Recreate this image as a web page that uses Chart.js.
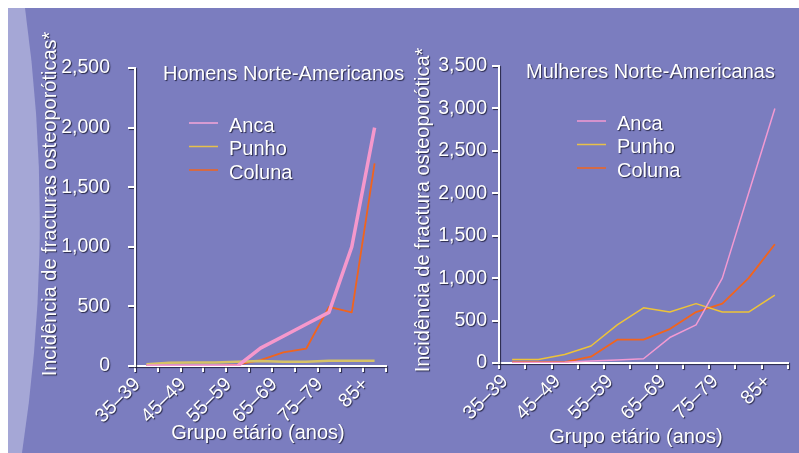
<!DOCTYPE html>
<html>
<head>
<meta charset="utf-8">
<script src="https://cdn.jsdelivr.net/npm/chart.js@4.4.1/dist/chart.umd.min.js"></script>
<style>
  html, body { margin: 0; padding: 0; background: #ffffff; }
  #stage { position: relative; width: 799px; height: 453px; overflow: hidden; background: #ffffff; }
  #panel { position: absolute; left: 8px; top: 8px; right: 0; bottom: 0; background: #7b7dbf; }
  #strip { position: absolute; left: 0; top: 0; }
  .box { position: absolute; top: 0; height: 453px; }
  #menBox { left: 30px; width: 385px; }
  #womenBox { left: 400px; width: 399px; }
</style>
</head>
<body>
<div id="stage">
  <div id="panel"></div>
  <svg id="strip" width="80" height="453" viewBox="0 0 80 453">
    <path d="M 8 8 L 25 8 Q 56 230 22 453 L 8 453 Z" fill="#a5a7d6"/>
  </svg>
  <div class="box" id="womenBox"><canvas id="women" width="399" height="453"></canvas></div>
  <div class="box" id="menBox"><canvas id="men" width="385" height="453"></canvas></div>
</div>
<script>
// Age bands on the horizontal axis
const ageGroups = ['35–39', '40–44', '45–49', '50–54', '55–59', '60–64', '65–69', '70–74', '75–79', '80–84', '85+'];

// Incidence of osteoporotic fractures, men
const menHip   = [0, 0, 0, 0, 0, 150, 250, 350, 450, 1000, 2000];
const menWrist = [15, 28, 30, 30, 35, 42, 35, 35, 45, 45, 45];
const menSpine = [0, 0, 0, 0, 12, 50, 115, 145, 495, 450, 1700];

// Incidence of osteoporotic fractures, women
const womenHip   = [5, 5, 10, 25, 35, 50, 300, 450, 1000, 2000, 3000];
const womenWrist = [40, 40, 100, 200, 450, 650, 600, 700, 600, 600, 800];
const womenSpine = [10, 10, 10, 75, 275, 275, 400, 600, 700, 1000, 1400];

// Series names
const seriesNames = ['Anca', 'Punho', 'Coluna'];

// Value axis ranges
const menMax = 2500;
const womenMax = 3500;
const yStep = 500;

const FONT = "'Liberation Sans', Arial, Helvetica, sans-serif";
const WHITE = '#ffffff';

function setShadow(ctx) {
  ctx.shadowColor = 'rgba(25, 25, 50, 0.85)';
  ctx.shadowOffsetX = 1;
  ctx.shadowOffsetY = 1;
  ctx.shadowBlur = 1;
}
function clearShadow(ctx) {
  ctx.shadowColor = 'rgba(0,0,0,0)';
  ctx.shadowOffsetX = 0;
  ctx.shadowOffsetY = 0;
  ctx.shadowBlur = 0;
}

// Shadowed axes and text; in-plot heading, legend and axis titles
const panelDecor = {
  id: 'panelDecor',
  beforeDraw(chart) {
    setShadow(chart.ctx);
  },
  beforeDatasetsDraw(chart) {
    clearShadow(chart.ctx);
  },
  afterDraw(chart, args, opts) {
    const ctx = chart.ctx;
    const area = chart.chartArea;
    ctx.save();
    setShadow(ctx);
    ctx.fillStyle = WHITE;
    ctx.textBaseline = 'middle';
    ctx.font = opts.textSize + 'px ' + FONT;

    // value-axis title, rotated
    ctx.save();
    ctx.textAlign = 'center';
    ctx.translate(opts.yTitleX, opts.yTitleY);
    ctx.rotate(-Math.PI / 2);
    ctx.fillText(opts.yTitle, 0, 0);
    ctx.restore();

    // category-axis title
    ctx.textAlign = 'center';
    ctx.fillText(opts.xTitle, opts.xTitleX, opts.xTitleY);

    // heading
    ctx.textAlign = 'left';
    ctx.fillText(opts.title, area.left + opts.titleDx, area.top + opts.titleDy);

    // legend
    chart.data.datasets.forEach((ds, i) => {
      const y = area.top + opts.legendDy + i * opts.legendGap;
      const x = area.left + opts.legendDx;
      clearShadow(ctx);
      ctx.strokeStyle = ds.legendColor || ds.borderColor;
      ctx.lineWidth = 1.5;
      ctx.beginPath();
      ctx.moveTo(x, y - 3);
      ctx.lineTo(x + 29, y - 3);
      ctx.stroke();
      setShadow(ctx);
      ctx.fillStyle = WHITE;
      ctx.fillText(ds.label, x + 40, y);
    });
    ctx.restore();
  }
};

function fmt(v) {
  return Number(v).toLocaleString('en-US');
}

function makeChart(id, cfg) {
  return new Chart(document.getElementById(id), {
    type: 'line',
    data: {
      labels: ageGroups,
      datasets: [
        { label: seriesNames[0], data: cfg.hip, borderColor: cfg.hipColor, legendColor: cfg.hipLegend, borderWidth: cfg.hipWidth },
        { label: seriesNames[1], data: cfg.wrist, borderColor: cfg.wristColor, legendColor: cfg.wristLegend, borderWidth: cfg.wristWidth },
        { label: seriesNames[2], data: cfg.spine, borderColor: cfg.spineColor, legendColor: cfg.spineLegend, borderWidth: cfg.spineWidth }
      ]
    },
    options: {
      responsive: false,
      animation: false,
      events: [],
      elements: { point: { radius: 0 }, line: { tension: 0, borderJoinStyle: 'round' } },
      layout: { padding: { left: 0, right: cfg.padRight, top: cfg.padTop, bottom: 0 } },
      plugins: {
        legend: { display: false },
        title: { display: false },
        tooltip: { enabled: false },
        panelDecor: {
          title: cfg.title, textSize: 20, titleDx: cfg.titleDx, titleDy: 6,
          legendDx: cfg.legendDx, legendDy: 58, legendGap: 23.5,
          yTitle: cfg.yTitle, yTitleX: cfg.yTitleX, yTitleY: cfg.yTitleY,
          xTitle: 'Grupo etário (anos)', xTitleX: cfg.xTitleX, xTitleY: cfg.xTitleY
        }
      },
      scales: {
        x: {
          type: 'category',
          offset: true,
          grid: { offset: true, drawOnChartArea: false, drawTicks: true, tickLength: 6, color: WHITE, lineWidth: 2 },
          border: { display: true, color: WHITE, width: 2 },
          ticks: {
            autoSkip: false, minRotation: 45, maxRotation: 45, padding: 1,
            color: WHITE, font: { family: FONT, size: 19.5 },
            labelOffset: cfg.labelOffset,
            callback: (v, i) => (i % 2 === 0 ? ageGroups[i] : '')
          },
          title: { display: false },
          afterFit: (s) => { s.height = cfg.xHeight; }
        },
        y: {
          min: 0, max: cfg.max,
          grid: { drawOnChartArea: false, drawTicks: true, tickLength: 7, color: WHITE, lineWidth: 2 },
          border: { display: true, color: WHITE, width: 2 },
          ticks: {
            stepSize: yStep, padding: cfg.yTickPad, color: WHITE,
            font: { family: FONT, size: 19.5 }, callback: (v) => fmt(v)
          },
          title: { display: false },
          afterFit: (s) => { s.width = cfg.yWidth; }
        }
      }
    },
    plugins: [panelDecor]
  });
}

makeChart('men', {
  hip: menHip, wrist: menWrist, spine: menSpine,
  hipColor: '#f598cc', hipLegend: '#f4a6d8', hipWidth: 3.5,
  wristColor: '#d6c266', wristLegend: '#e6c04c', wristWidth: 2.5,
  spineColor: '#f0641e', spineLegend: '#f0641e', spineWidth: 1.8,
  max: menMax,
  title: 'Homens Norte-Americanos', titleDx: 28, legendDx: 54,
  yTitle: 'Incidência de fracturas osteoporóticas*', yTitleX: 20, yTitleY: 204,
  xTitleX: 228, xTitleY: 433,
  padRight: 29, padTop: 68,
  xHeight: 87, yWidth: 105, yTickPad: 18,
  labelOffset: -9
});

makeChart('women', {
  hip: womenHip, wrist: womenWrist, spine: womenSpine,
  hipColor: '#f29ad2', hipLegend: '#f29ad2', hipWidth: 1.5,
  wristColor: '#eec338', wristLegend: '#e8c04a', wristWidth: 1.5,
  spineColor: '#f2641c', spineLegend: '#f2641c', spineWidth: 1.8,
  max: womenMax,
  title: 'Mulheres Norte-Americanas', titleDx: 27, legendDx: 78,
  yTitle: 'Incidência de fractura osteoporótica*', yTitleX: 23, yTitleY: 210,
  xTitleX: 236, xTitleY: 437,
  padRight: 11, padTop: 66,
  xHeight: 90, yWidth: 99, yTickPad: 5,
  labelOffset: -7
});
</script>
</body>
</html>
